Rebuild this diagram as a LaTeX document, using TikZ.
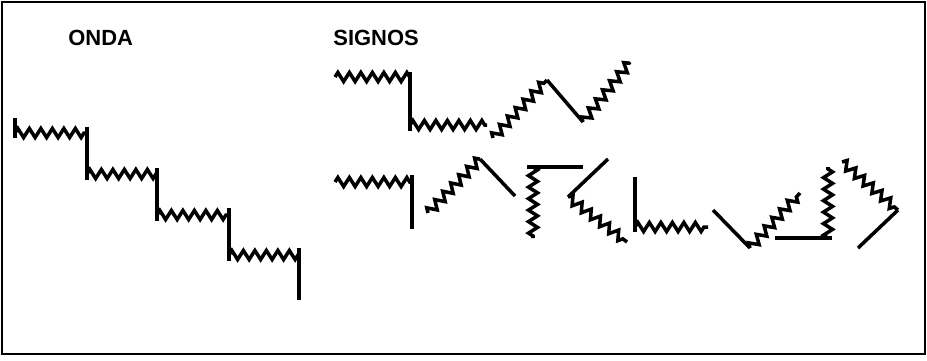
\documentclass[tikz,border=0pt]{standalone}
\usepackage{fontspec}
\setmainfont{Liberation Sans}
\usetikzlibrary{decorations.pathmorphing}

\begin{document}
\begin{tikzpicture}[
        x=0.02cm, y=-0.02cm,
        font=\fontsize{12.5}{15}\selectfont\bfseries,
        % Define Styles
        wave/.style={decorate, decoration={zigzag, segment length=0.23cm, amplitude=0.09cm}, line width=2pt},
        leg/.style={line width=2pt},
        title/.style={anchor=base west, inner sep=0pt},
        frame/.style={line width=1.5pt}
    ]

    % --- FRAME ---
    \useasboundingbox (0,0) rectangle (927,360);
    \draw[frame] (2,2) rectangle (925,354);

    % --- TITLES ---
    \node[title] (onda) at (68,45) {ONDA};
    \node[title] (signos) at (333,45) {SIGNOS};

    % --- ONDA (staircase) ---
    \draw[leg] (15,118) -- (15,138);
    \draw[wave] (15,133) -- (87,133);
    \draw[leg] (87,127) -- (87,180);
    \draw[wave] (87,174) -- (157,174);
    \draw[leg] (157,168) -- (157,221);
    \draw[wave] (157,215) -- (229,215);
    \draw[leg] (229,208) -- (229,261);
    \draw[wave] (229,255) -- (299,255);
    \draw[leg] (299,248) -- (299,300);

    % --- SIGNOS (Row 1) ---
    \draw[wave] (335,77) -- (410,77);
    \draw[leg] (410,72) -- (410,131);
    \draw[wave] (410,125) -- (487,125);

    \draw[wave] (493,138) -- (547,80);
    \draw[leg] (547,80) -- (583,122);
    \draw[wave] (583,122) -- (630,62);

    % --- SIGNOS (Row 2) ---
    \draw[wave] (335,182) -- (412,182);
    \draw[leg] (412,175) -- (412,229);

    \draw[wave] (428,213) -- (480,159);
    \draw[leg] (480,159) -- (515,196);

    \draw[leg] (527,167) -- (583,167);
    \draw[wave] (533,167) -- (533,238);

    \draw[leg] (608,159) -- (568,197);
    \draw[wave] (568,197) -- (627,242);

    \draw[leg] (635,177) -- (635,232);
    \draw[wave] (635,227) -- (708,227);

    \draw[leg] (713,210) -- (750,248);
    \draw[wave] (750,248) -- (800,193);

    \draw[leg] (775,238) -- (832,238);
    \draw[wave] (828,238) -- (828,167);

    \draw[wave] (842,162) -- (898,210);
    \draw[leg] (898,210) -- (858,248);

\end{tikzpicture}
\end{document}
